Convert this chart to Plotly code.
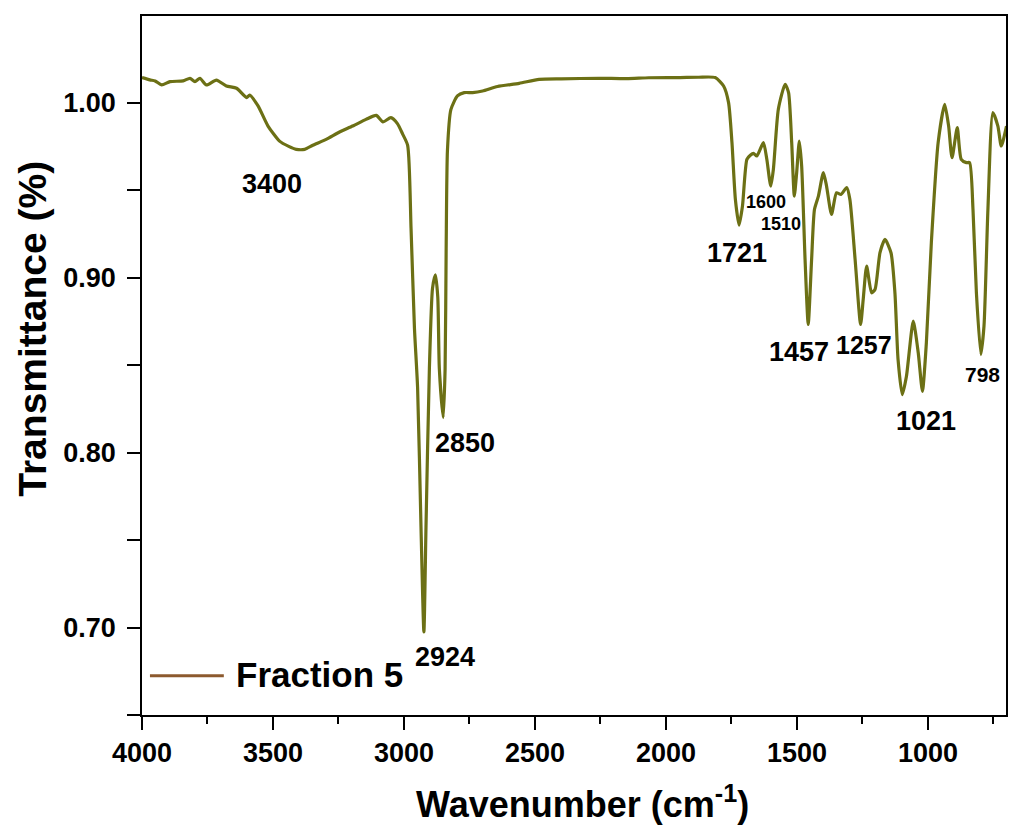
import plotly.graph_objects as go

# ---- data ----
wavenumber = [4000, 3970, 3950, 3925, 3893, 3843, 3817, 3798, 3779, 3754, 3716, 3678, 3639, 3601, 3589,
              3557, 3519, 3475, 3440, 3411, 3379, 3348, 3297, 3246, 3196, 3145, 3106, 3080, 3050, 3025,
              3005, 2986, 2973, 2960, 2948, 2935, 2924, 2916, 2903, 2891, 2880, 2871, 2865, 2850, 2843,
              2839, 2834, 2821, 2796, 2770, 2738, 2700, 2643, 2560, 2484, 2400, 2256, 2150, 2066, 1951,
              1875, 1812, 1780, 1761, 1748, 1735, 1721, 1708, 1691, 1678, 1666, 1653, 1628, 1615, 1600,
              1590, 1571, 1545, 1532, 1520, 1510, 1501, 1491, 1482, 1469, 1457, 1444, 1433, 1418, 1399,
              1387, 1368, 1349, 1332, 1310, 1298, 1278, 1257, 1247, 1234, 1215, 1202, 1183, 1164, 1141,
              1126, 1114, 1098, 1082, 1056, 1037, 1021, 1006, 987, 961, 936, 921, 908, 888, 873,
              853, 841, 828, 815, 798, 786, 771, 752, 733, 720, 700]
transmittance = [1.0143, 1.0130, 1.0124, 1.0101, 1.0120, 1.0124, 1.0139, 1.0120, 1.0139, 1.0101, 1.0129, 1.0095, 1.0082, 1.0029, 1.0043,
                 0.9981, 0.9866, 0.9780, 0.9750, 0.9733, 0.9733, 0.9756, 0.9790, 0.9832, 0.9866, 0.9904, 0.9927, 0.9890, 0.9914, 0.9880,
                 0.9820, 0.9756, 0.9280, 0.8710, 0.8370, 0.7570, 0.6975, 0.7570, 0.8480, 0.8940, 0.9016, 0.8890, 0.8480, 0.8200, 0.8480,
                 0.9166, 0.9730, 0.9960, 1.0038, 1.0057, 1.0057, 1.0066, 1.0092, 1.0110, 1.0133, 1.0136, 1.0139, 1.0137, 1.0142, 1.0143,
                 1.0145, 1.0143, 1.0095, 1.0000, 0.9771, 0.9447, 0.9300, 0.9408, 0.9676, 0.9699, 0.9710, 0.9695, 0.9771, 0.9676, 0.9523,
                 0.9618, 0.9962, 1.0105, 1.0057, 0.9771, 0.9466, 0.9600, 0.9780, 0.9637, 0.9104, 0.8732, 0.9104, 0.9390, 0.9466, 0.9600,
                 0.9523, 0.9361, 0.9485, 0.9475, 0.9514, 0.9447, 0.9104, 0.8732, 0.8875, 0.9065, 0.8913, 0.8932, 0.9142, 0.9218, 0.9142,
                 0.8913, 0.8531, 0.8331, 0.8436, 0.8751, 0.8570, 0.8350, 0.8627, 0.9199, 0.9771, 0.9990, 0.9866, 0.9685, 0.9857, 0.9676,
                 0.9657, 0.9657, 0.9390, 0.8913, 0.8560, 0.8722, 0.9390, 0.9943, 0.9866, 0.9752, 0.9866]

series_name = "Fraction 5"
peak_labels = ["3400", "2850", "2924", "1721", "1600", "1510", "1457", "1257", "1021", "798"]
x_title = "Wavenumber (cm<sup>-1</sup>)"
y_title = "Transmittance (%)"

# label placement (layout only)
label_x = [3505, 2766, 2842, 1730, 1618, 1561, 1494, 1243, 1007, 790]
label_y = [0.9532, 0.8057, 0.6832, 0.9138, 0.9432, 0.9307, 0.8574, 0.8612, 0.8182, 0.8446]
label_size = [27, 27, 27, 27, 18, 18, 27, 25, 27, 21]

FONT = "Liberation Sans, Arial, sans-serif"
LINE_COLOR = "#6C7015"
LEGEND_COLOR = "#8C5A2E"

fig = go.Figure()
fig.add_trace(go.Scatter(
    x=wavenumber, y=transmittance, mode="lines", name=series_name,
    line=dict(color=LINE_COLOR, width=3.2, shape="spline", smoothing=0.6),
    showlegend=False,
))

for t, xx, yy, s in zip(peak_labels, label_x, label_y, label_size):
    fig.add_annotation(x=xx, y=yy, xref="x", yref="y", text=t, showarrow=False,
                       xanchor="center", yanchor="middle",
                       font=dict(family=FONT, size=s, color="black", weight="bold"))

# manual legend (long line sample like the reference)
fig.add_shape(type="line", xref="paper", yref="paper", x0=0.0092, x1=0.0947, y0=0.0562, y1=0.0562,
              line=dict(color=LEGEND_COLOR, width=3))
fig.add_annotation(x=0.1062, y=0.0586, xref="paper", yref="paper", text=series_name, showarrow=False,
                   xanchor="left", yanchor="middle",
                   font=dict(family=FONT, size=35, color="black", weight="bold"))

# axis titles placed like the reference
fig.add_annotation(x=0.510, y=-0.124, xref="paper", yref="paper", text=x_title, showarrow=False,
                   xanchor="center", yanchor="middle",
                   font=dict(family=FONT, size=36, color="black", weight="bold"))
fig.add_annotation(x=-0.127, y=0.553, xref="paper", yref="paper", text=y_title, showarrow=False,
                   textangle=-90, xanchor="center", yanchor="middle",
                   font=dict(family=FONT, size=39, color="black", weight="bold"))

fig.update_layout(
    width=1009, height=825,
    margin=dict(l=142, r=1, t=16, b=110),
    paper_bgcolor="white", plot_bgcolor="white",
    showlegend=False,
)
fig.update_xaxes(
    range=[4000, 702], tick0=0, dtick=500,
    showgrid=False, zeroline=False,
    showline=True, linecolor="black", linewidth=1.5, mirror=True,
    ticks="outside", ticklen=13, tickwidth=1.5, tickcolor="black",
    minor=dict(dtick=250, tick0=0, ticks="outside", ticklen=7, tickwidth=1.5, tickcolor="black"),
    tickfont=dict(family=FONT, size=27, color="black", weight="bold"),
)
fig.update_yaxes(
    range=[0.65, 1.0495], tick0=0.7, dtick=0.1, tickformat=".2f",
    showgrid=False, zeroline=False,
    showline=True, linecolor="black", linewidth=1.5, mirror=True,
    ticks="outside", ticklen=13, tickwidth=1.5, tickcolor="black",
    minor=dict(dtick=0.05, tick0=0.65, ticks="outside", ticklen=13, tickwidth=1.5, tickcolor="black"),
    tickfont=dict(family=FONT, size=27, color="black", weight="bold"),
    ticklabelstandoff=6,
)

fig.write_html("out.html")
